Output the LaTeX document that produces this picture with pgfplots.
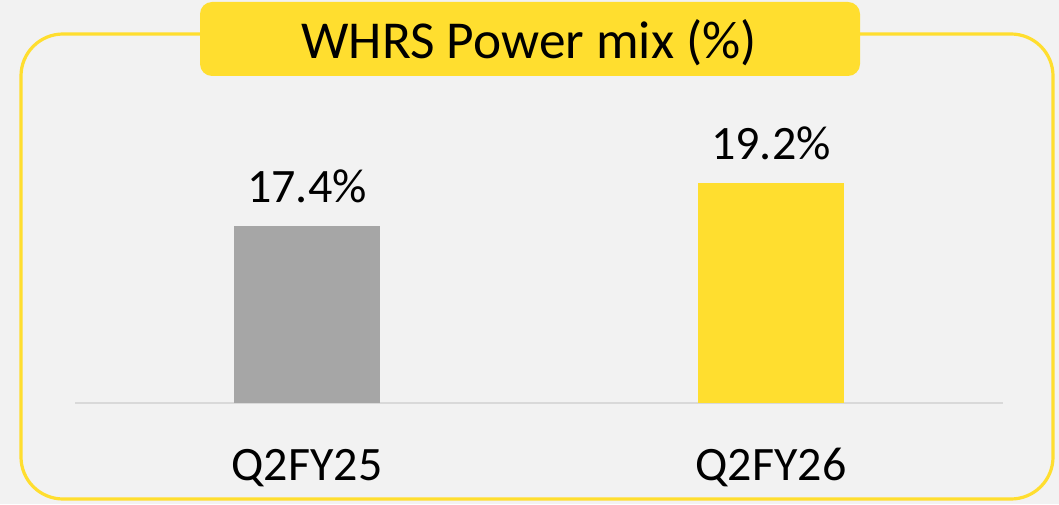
\documentclass[border=0pt]{standalone}
\usepackage{fontspec}
\setmainfont{Carlito}
\usepackage{pgfplots}
\pgfplotsset{compat=1.18}
\definecolor{bgc}{HTML}{F2F2F2}
\definecolor{yel}{HTML}{FFDE2F}
\definecolor{gry}{HTML}{A6A6A6}
\definecolor{basec}{HTML}{D9D9D9}
\begin{document}
\begin{tikzpicture}
\begin{scope}[x=0.75pt,y=0.75pt]
\fill[bgc] (0,0) rectangle (1059,504);
\draw[yel, line width=2.4pt, rounded corners=31.5pt] (21,470) rectangle (1053,5);
\fill[yel, rounded corners=9pt] (200,502) rectangle (860,428);
\node[anchor=base, inner sep=0pt, font=\fontsize{40}{48}\selectfont] at (529,445) {WHRS Power mix (\%)};
\end{scope}
\begin{axis}[
  at={(56.25pt,75.75pt)}, anchor=south west,
  scale only axis, width=696pt, height=215pt,
  xmin=-0.5, xmax=1.5, ymin=10, ymax=22,
  axis y line=none,
  axis x line*=bottom,
  x axis line style={basec, line width=1.5pt, -},
  xtick={0,1}, xticklabels={Q2FY25,Q2FY26},
  major tick length=0pt,
  xticklabel style={anchor=base, yshift=-57.75pt, font=\fontsize{36}{43}\selectfont},
  ybar, bar width=109.5pt, bar shift=0pt,
  clip=false,
  nodes near coords={\pgfmathprintnumber[fixed,precision=1,fixed zerofill]{\pgfplotspointmeta}\%},
  nodes near coords style={anchor=base, yshift=17.5pt, font=\fontsize{36}{43}\selectfont, text=black},
  /pgf/number format/assume math mode=true,
]
\addplot[fill=gry, draw=none] coordinates {(0,17.4)};
\addplot[fill=yel, draw=none] coordinates {(1,19.2)};
\end{axis}
\pgfresetboundingbox
\useasboundingbox (0,0) rectangle (794.25pt,378pt);
\end{tikzpicture}
\end{document}
